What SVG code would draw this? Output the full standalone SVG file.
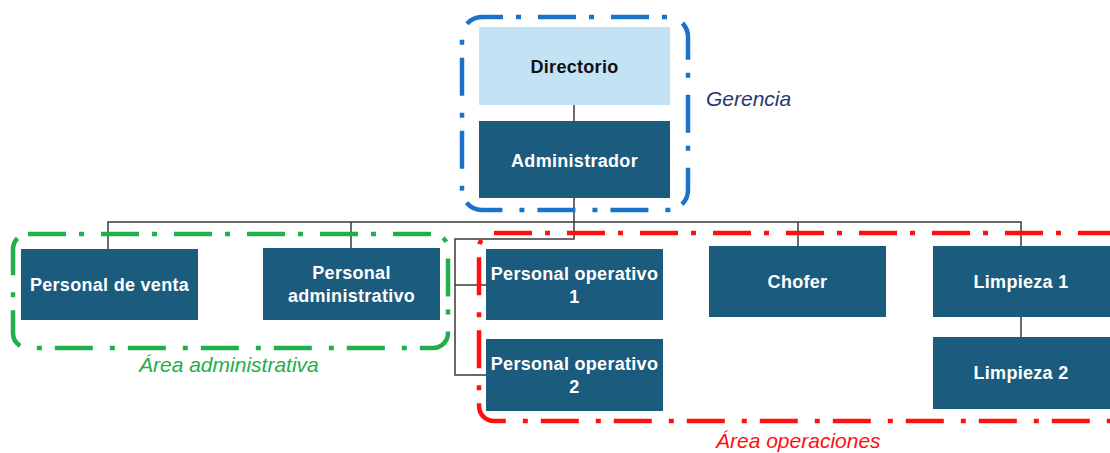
<svg xmlns="http://www.w3.org/2000/svg" width="1110" height="453" viewBox="0 0 1110 453">
  <style>
    .node { fill: #1b5c7e; }
    .node-light { fill: #c3e3f5; }
    .lbl { font-family: "Liberation Sans", Arial, sans-serif; font-weight: bold; font-size: 18px; fill: #ffffff; text-anchor: middle; letter-spacing: 0.3px; }
    .lbl-dark { fill: #111111; }
    .wire { fill: none; stroke: #3a3a3a; stroke-width: 1.5; }
    .area { fill: none; stroke-width: 4.5; stroke-dasharray: 38 13 5 17; }
    .area-text { font-family: "Liberation Sans", Arial, sans-serif; font-style: italic; font-size: 21px; }
  </style>

  <!-- reporting lines -->
  <g id="connectors">
    <line class="wire" x1="574" y1="105" x2="574" y2="121"/>
    <path class="wire" d="M574 198 V239 H455 V375 H486"/>
    <line class="wire" x1="455" y1="285" x2="486" y2="285"/>
    <path class="wire" d="M108 249 V222 H1021 V246"/>
    <line class="wire" x1="351" y1="222" x2="351" y2="248"/>
    <line class="wire" x1="798" y1="222" x2="798" y2="246"/>
    <line class="wire" x1="1021" y1="317" x2="1021" y2="337"/>
  </g>

  <g id="directorio">
    <rect class="node-light" x="479" y="27" width="191" height="78"/>
    <text class="lbl lbl-dark" x="574.5" y="73">Directorio</text>
  </g>
  <g id="administrador">
    <rect class="node" x="479" y="121" width="191" height="77"/>
    <text class="lbl" x="574.5" y="167">Administrador</text>
  </g>
  <g id="personal-venta">
    <rect class="node" x="21" y="249" width="177" height="71"/>
    <text class="lbl" x="109.5" y="291">Personal de venta</text>
  </g>
  <g id="personal-administrativo">
    <rect class="node" x="263" y="248" width="177" height="72"/>
    <text class="lbl" x="351.5" y="279">Personal</text>
    <text class="lbl" x="351.5" y="302">administrativo</text>
  </g>
  <g id="personal-operativo-1">
    <rect class="node" x="486" y="249" width="177" height="71"/>
    <text class="lbl" x="574.5" y="280">Personal operativo</text>
    <text class="lbl" x="574.5" y="303">1</text>
  </g>
  <g id="personal-operativo-2">
    <rect class="node" x="486" y="339" width="177" height="72"/>
    <text class="lbl" x="574.5" y="370">Personal operativo</text>
    <text class="lbl" x="574.5" y="393">2</text>
  </g>
  <g id="chofer">
    <rect class="node" x="709" y="246" width="177" height="71"/>
    <text class="lbl" x="797.5" y="288">Chofer</text>
  </g>
  <g id="limpieza-1">
    <rect class="node" x="933" y="246" width="177" height="71"/>
    <text class="lbl" x="1021" y="288">Limpieza 1</text>
  </g>
  <g id="limpieza-2">
    <rect class="node" x="933" y="337" width="177" height="72"/>
    <text class="lbl" x="1021" y="379">Limpieza 2</text>
  </g>

  <!-- area groupings -->
  <g id="area-gerencia">
    <rect class="area" x="462" y="17" width="226" height="193" rx="20" stroke="#1b73c9" stroke-dashoffset="17"/>
    <text class="area-text" x="706" y="106" fill="#1f3a6e">Gerencia</text>
  </g>
  <g id="area-administrativa">
    <rect class="area" x="13" y="234" width="435" height="114" rx="15" stroke="#20b04b"/>
    <text class="area-text" x="139" y="372" fill="#20b04b">Área administrativa</text>
  </g>
  <g id="area-operaciones">
    <rect class="area" x="479" y="233" width="700" height="188" rx="15" stroke="#ff1010"/>
    <text class="area-text" x="716" y="448" fill="#ff1010">Área operaciones</text>
  </g>
</svg>
